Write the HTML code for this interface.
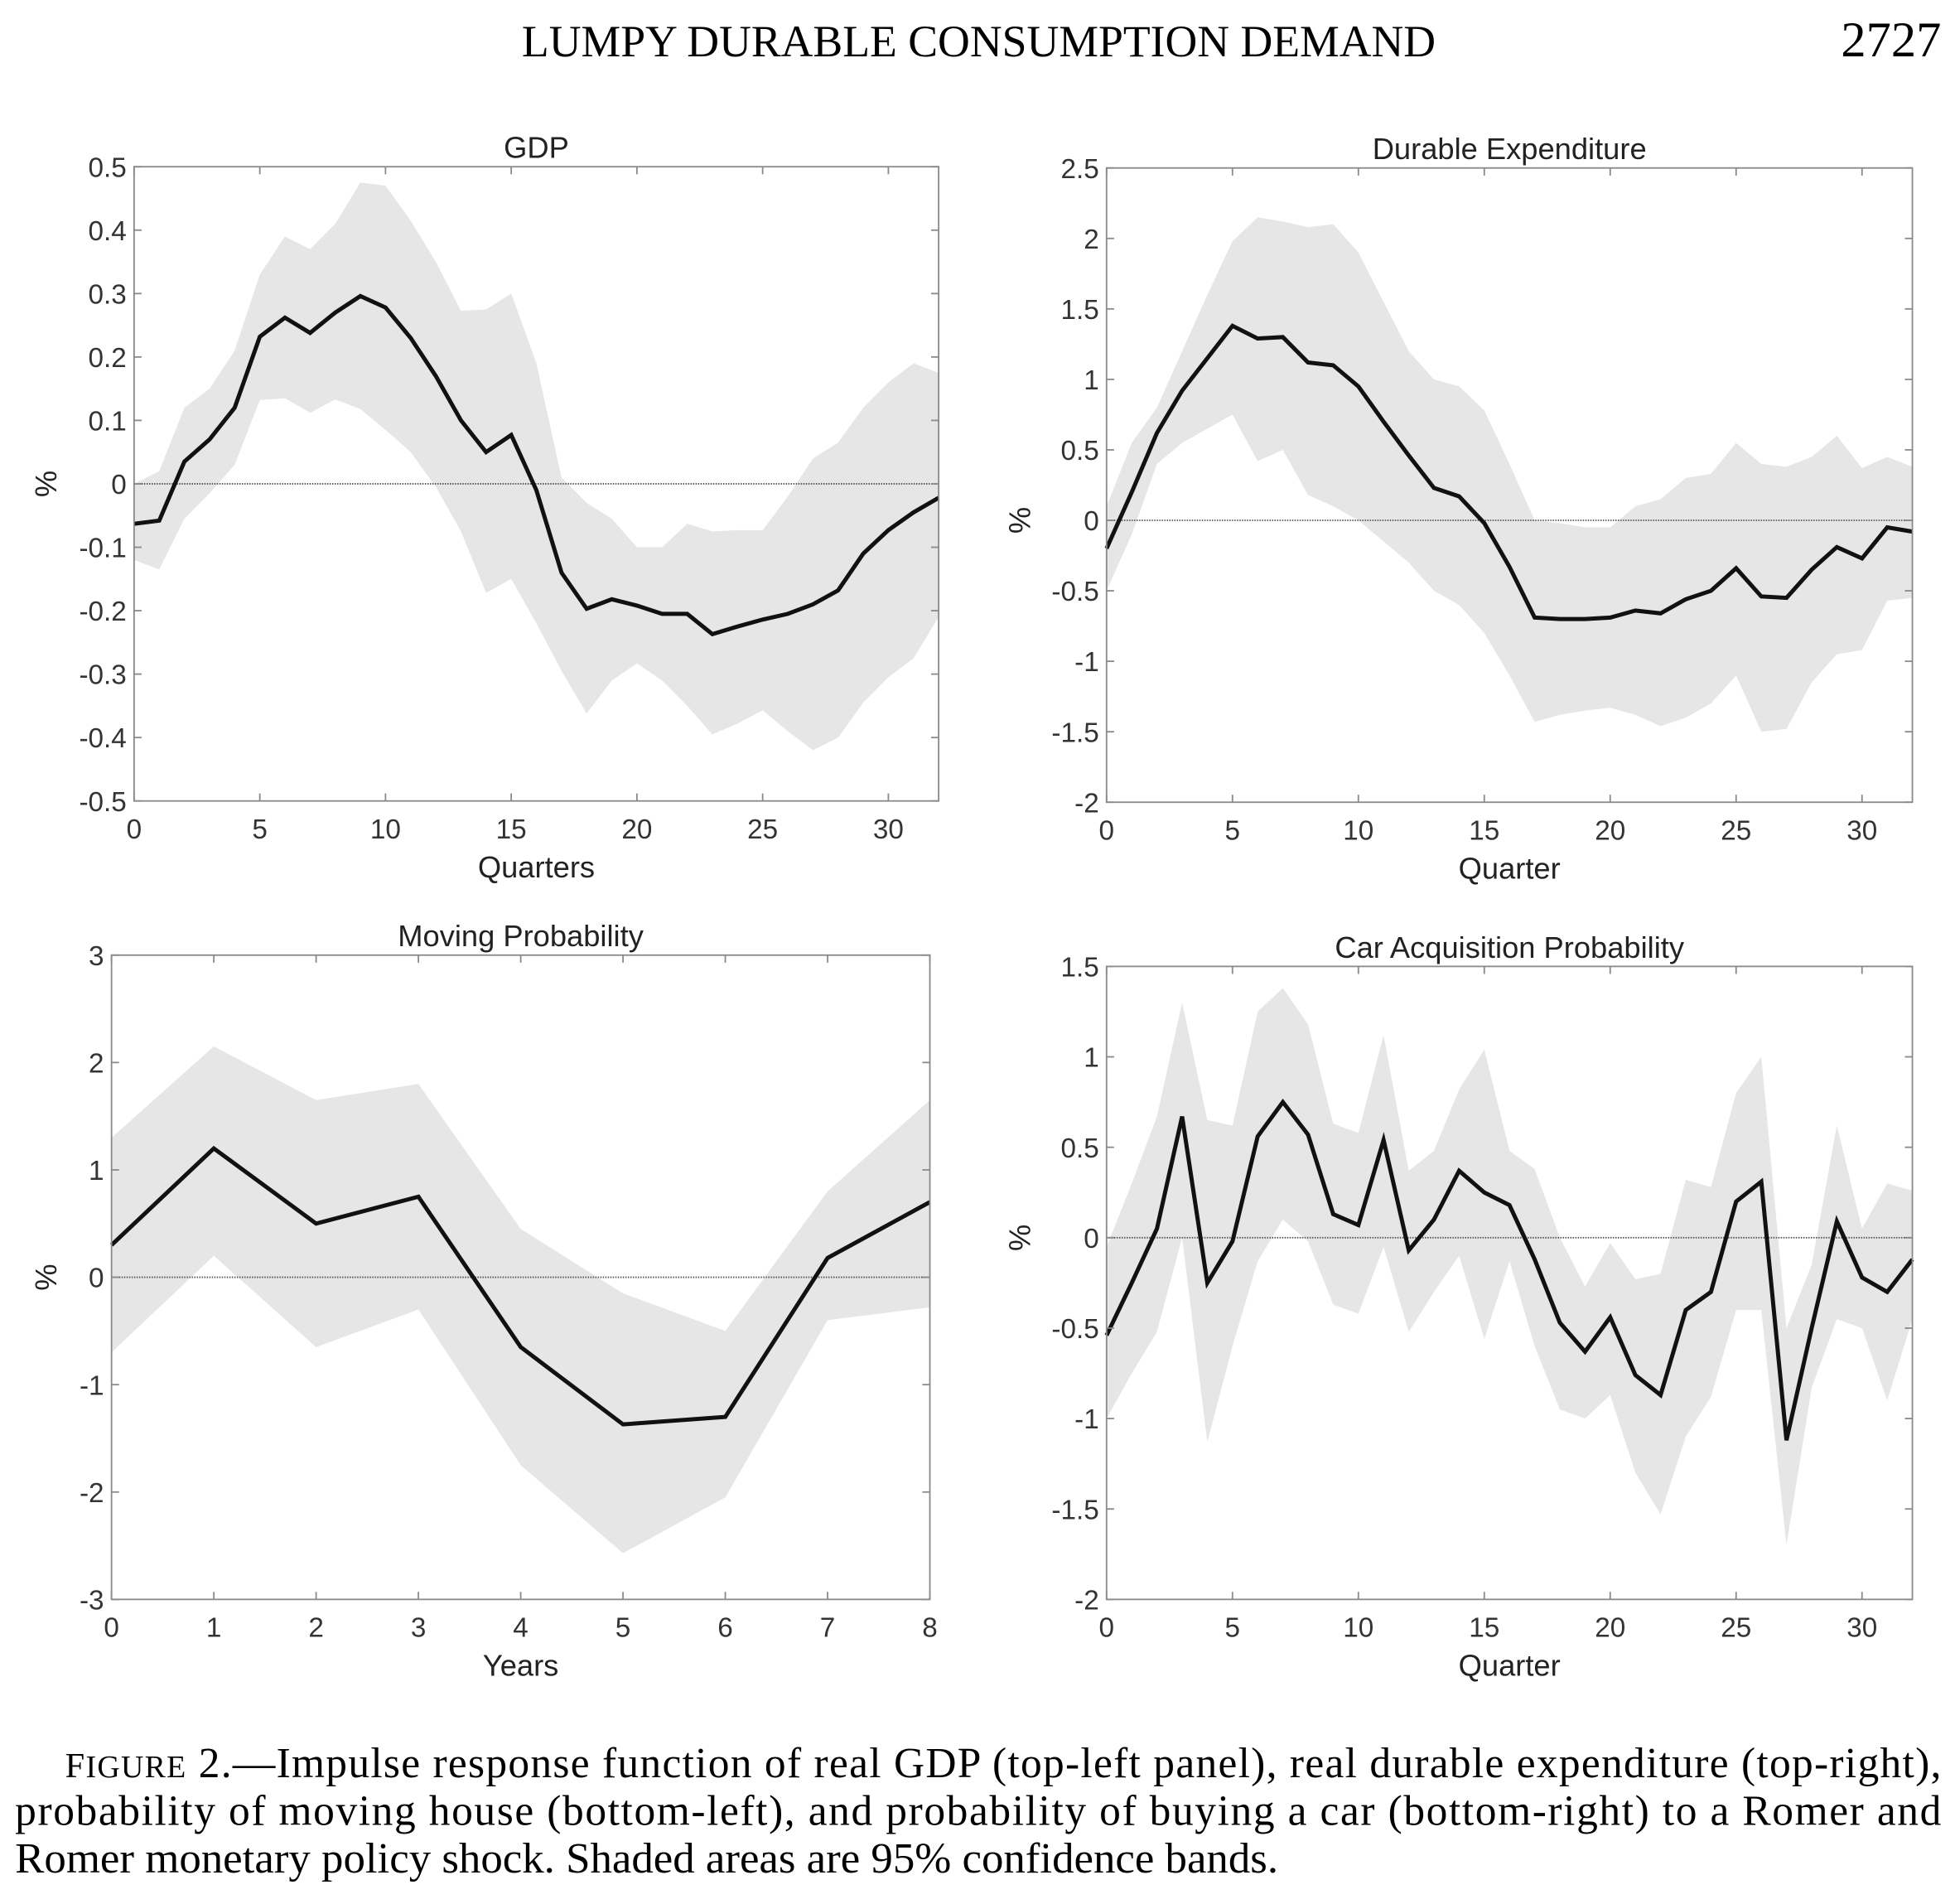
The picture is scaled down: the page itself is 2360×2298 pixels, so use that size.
<!DOCTYPE html>
<html><head><meta charset="utf-8">
<style>
html,body{margin:0;padding:0;background:#fff;}
svg{display:block;}
.tick{font-family:"Liberation Sans",sans-serif;font-size:22px;fill:#333;}
.ttl{font-family:"Liberation Sans",sans-serif;font-size:24px;fill:#222;}
.serif{font-family:"Liberation Serif",serif;fill:#000;}
</style></head>
<body>
<svg id="fig" width="2360" height="2298" viewBox="0 0 1560 1519" xmlns="http://www.w3.org/2000/svg">
<text class="serif" x="781" y="45" font-size="35.5" text-anchor="middle">LUMPY DURABLE CONSUMPTION DEMAND</text>
<text class="serif" x="1549" y="45" font-size="40" text-anchor="end">2727</text>
<g>
<text class="serif" x="52" y="1418" font-size="34" textLength="1497" lengthAdjust="spacing"><tspan font-size="28">F</tspan><tspan font-size="25">IGURE</tspan> 2.—Impulse response function of real GDP (top-left panel), real durable expenditure (top-right),</text>
<text class="serif" x="12" y="1456" font-size="34" textLength="1537" lengthAdjust="spacing">probability of moving house (bottom-left), and probability of buying a car (bottom-right) to a Romer and</text>
<text class="serif" x="12" y="1494" font-size="34" textLength="1008" lengthAdjust="spacingAndGlyphs">Romer monetary policy shock. Shaded areas are 95% confidence bands.</text>
</g>
</svg>
<script>
// GDP panel data
const gdpQuarters = [0,1,2,3,4,5,6,7,8,9,10,11,12,13,14,15,16,17,18,19,20,21,22,23,24,25,26,27,28,29,30,31,32];
const gdpMean = [-0.063,-0.058,0.035,0.07,0.12,0.232,0.262,0.238,0.27,0.296,0.278,0.23,0.17,0.1,0.05,0.077,-0.01,-0.14,-0.197,-0.182,-0.192,-0.205,-0.205,-0.237,-0.225,-0.214,-0.205,-0.19,-0.168,-0.11,-0.073,-0.045,-0.022];
const gdpUpper = [0.0,0.02,0.12,0.15,0.21,0.33,0.39,0.37,0.41,0.475,0.47,0.415,0.35,0.273,0.275,0.30,0.19,0.01,-0.03,-0.055,-0.1,-0.1,-0.063,-0.075,-0.073,-0.073,-0.02,0.04,0.065,0.12,0.16,0.19,0.175];
const gdpLower = [-0.12,-0.135,-0.055,-0.015,0.03,0.132,0.135,0.112,0.133,0.118,0.085,0.05,-0.005,-0.075,-0.172,-0.15,-0.22,-0.295,-0.362,-0.31,-0.283,-0.31,-0.35,-0.395,-0.378,-0.357,-0.39,-0.42,-0.4,-0.345,-0.305,-0.275,-0.21];
const gdpYTicks = ["0.5","0.4","0.3","0.2","0.1","0","-0.1","-0.2","-0.3","-0.4","-0.5"];
// Durable expenditure data
const durMean = [-0.2,0.2,0.62,0.92,1.15,1.38,1.29,1.3,1.12,1.1,0.95,0.7,0.46,0.23,0.17,-0.02,-0.33,-0.69,-0.7,-0.7,-0.69,-0.64,-0.66,-0.56,-0.5,-0.34,-0.54,-0.55,-0.35,-0.19,-0.27,-0.05,-0.08];
const durUpper = [0.1,0.55,0.8,1.2,1.6,1.98,2.15,2.12,2.08,2.1,1.9,1.55,1.2,1.0,0.95,0.78,0.4,0.0,-0.02,-0.05,-0.05,0.1,0.15,0.3,0.33,0.55,0.4,0.38,0.45,0.6,0.37,0.45,0.38];
const durLower = [-0.5,-0.1,0.4,0.55,0.65,0.75,0.42,0.5,0.18,0.1,0.0,-0.15,-0.3,-0.5,-0.6,-0.8,-1.1,-1.43,-1.38,-1.35,-1.33,-1.38,-1.46,-1.4,-1.3,-1.1,-1.5,-1.48,-1.15,-0.95,-0.92,-0.57,-0.55];
const durYTicks = ["2.5","2","1.5","1","0.5","0","-0.5","-1","-1.5","-2"];
// Moving probability data
const movYears = [0,1,2,3,4,5,6,7,8];
const movMean = [0.3,1.2,0.5,0.75,-0.65,-1.37,-1.3,0.18,0.7];
const movUpper = [1.3,2.15,1.65,1.8,0.45,-0.15,-0.5,0.8,1.65];
const movLower = [-0.7,0.2,-0.65,-0.3,-1.75,-2.57,-2.05,-0.4,-0.28];
const movYTicks = ["3","2","1","0","-1","-2","-3"];
// Car acquisition data
const carMean = [-0.54,-0.25,0.05,0.67,-0.25,-0.02,0.56,0.75,0.57,0.13,0.07,0.54,-0.07,0.1,0.37,0.25,0.18,-0.12,-0.47,-0.63,-0.44,-0.76,-0.87,-0.4,-0.3,0.2,0.31,-1.12,-0.5,0.09,-0.22,-0.3,-0.12];
const carUpper = [-0.05,0.3,0.67,1.3,0.65,0.62,1.25,1.38,1.18,0.63,0.58,1.12,0.37,0.48,0.82,1.04,0.48,0.38,0.0,-0.27,-0.03,-0.23,-0.2,0.32,0.28,0.8,1.0,-0.5,-0.15,0.62,0.05,0.3,0.26];
const carLower = [-1.0,-0.75,-0.52,0.0,-1.13,-0.6,-0.13,0.1,-0.02,-0.37,-0.42,-0.05,-0.52,-0.3,-0.1,-0.56,-0.13,-0.6,-0.95,-1.0,-0.87,-1.3,-1.53,-1.1,-0.88,-0.4,-0.4,-1.7,-0.83,-0.45,-0.5,-0.9,-0.45];
const carYTicks = ["1.5","1","0.5","0","-0.5","-1","-1.5","-2"];
const quarterTicks = ["0","5","10","15","20","25","30"];
const yearTicks = ["0","1","2","3","4","5","6","7","8"];

const NS = "http://www.w3.org/2000/svg";
const fig = document.getElementById('fig');
function mk(tag, attrs, parent){
  const e = document.createElementNS(NS, tag);
  for (const k in attrs) e.setAttribute(k, attrs[k]);
  parent.appendChild(e);
  return e;
}
function panel(o){
  const g = mk('g', {}, fig);
  
  
  const sx = v => o.x0 + (v - o.xmin) / (o.xmax - o.xmin) * (o.x1 - o.x0);
  const sy = v => o.y1 - (v - o.ymin) / (o.ymax - o.ymin) * (o.y1 - o.y0);
  const xs = o.xs;
  let d = '';
  xs.forEach((x,i)=>{ d += (i?'L':'M') + sx(x) + ' ' + sy(o.upper[i]); });
  for (let i = xs.length-1; i >= 0; i--) d += 'L' + sx(xs[i]) + ' ' + sy(o.lower[i]);
  const band = mk('path', {d: d+'Z', fill:'#e6e6e6', stroke:'none'}, g);
  
  
  const z = mk('line', {x1:o.x0, x2:o.x1, y1:sy(0), y2:sy(0), stroke:'#555', 'stroke-width':1.2, 'stroke-dasharray':'1 1'}, g);
  
  
  let m = '';
  xs.forEach((x,i)=>{ m += (i?'L':'M') + sx(x) + ' ' + sy(o.mean[i]); });
  const ln = mk('path', {d:m, fill:'none', stroke:'#111', 'stroke-width':3.3, 'stroke-linejoin':'miter'}, g);
  
  
  const box = mk('rect', {x:o.x0, y:o.y0, width:o.x1-o.x0, height:o.y1-o.y0, fill:'none', stroke:'#8a8a8a', 'stroke-width':1.2}, g);
  
  
  o.yticks.forEach(t=>{
    const v = parseFloat(t), y = sy(v);
    mk('line', {x1:o.x0, x2:o.x0+6, y1:y, y2:y, stroke:'#8a8a8a', 'stroke-width':1.2}, g);
    mk('line', {x1:o.x1, x2:o.x1-6, y1:y, y2:y, stroke:'#8a8a8a', 'stroke-width':1.2}, g);
    const tx = mk('text', {x:o.x0-6, y:y+8, 'text-anchor':'end', class:'tick'}, g);
    tx.textContent = t;
    
    
  });
  o.xticks.forEach(t=>{
    const v = parseFloat(t), x = sx(v);
    mk('line', {x1:x, x2:x, y1:o.y1, y2:o.y1-6, stroke:'#8a8a8a', 'stroke-width':1.2}, g);
    mk('line', {x1:x, x2:x, y1:o.y0, y2:o.y0+6, stroke:'#8a8a8a', 'stroke-width':1.2}, g);
    const tx = mk('text', {x:x, y:o.y1+30, 'text-anchor':'middle', class:'tick'}, g);
    tx.textContent = t;
    
    
  });
  const cx = (o.x0+o.x1)/2;
  const ti = mk('text', {x:cx, y:o.y0-7, 'text-anchor':'middle', class:'ttl'}, g);
  ti.textContent = o.title;
  
  
  const xl = mk('text', {x:cx, y:o.y1+61, 'text-anchor':'middle', class:'ttl'}, g);
  xl.textContent = o.xlabel;
  
  
  const yy = sy(0);
  const yl = mk('text', {x:o.ylx, y:yy, 'text-anchor':'middle', class:'ttl', transform:'rotate(-90 '+o.ylx+' '+yy+')'}, g);
  yl.textContent = '%';
  
  
}
panel({name:'gdp-panel', title:'GDP', xlabel:'Quarters', x0:107, x1:749, y0:133, y1:639, xmin:0, xmax:32, ymin:-0.5, ymax:0.5, xs:gdpQuarters, mean:gdpMean, upper:gdpUpper, lower:gdpLower, yticks:gdpYTicks, xticks:quarterTicks, ylx:45});
panel({name:'durable-expenditure-panel', title:'Durable Expenditure', xlabel:'Quarter', x0:883, x1:1526, y0:134, y1:640, xmin:0, xmax:32, ymin:-2, ymax:2.5, xs:gdpQuarters, mean:durMean, upper:durUpper, lower:durLower, yticks:durYTicks, xticks:quarterTicks, ylx:822});
panel({name:'moving-probability-panel', title:'Moving Probability', xlabel:'Years', x0:89, x1:742, y0:762, y1:1276, xmin:0, xmax:8, ymin:-3, ymax:3, xs:movYears, mean:movMean, upper:movUpper, lower:movLower, yticks:movYTicks, xticks:yearTicks, ylx:45});
panel({name:'car-acquisition-panel', title:'Car Acquisition Probability', xlabel:'Quarter', x0:883, x1:1526, y0:771, y1:1276, xmin:0, xmax:32, ymin:-2, ymax:1.5, xs:gdpQuarters, mean:carMean, upper:carUpper, lower:carLower, yticks:carYTicks, xticks:quarterTicks, ylx:822});
</script>
</body></html>
